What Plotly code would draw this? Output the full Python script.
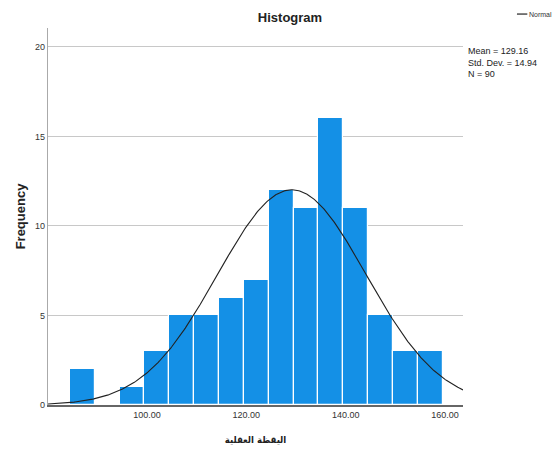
import numpy as np
import plotly.graph_objects as go

# Histogram of the mindfulness score (bins of width 5)
bin_centers = [87, 92, 97, 102, 107, 112, 117, 122, 127, 132, 137, 142, 147, 152, 157]
counts = [2, 0, 1, 3, 5, 5, 6, 7, 12, 11, 16, 11, 5, 3, 3]
bin_width = 5

mean_val = 129.16
std_val = 14.94
n_val = 90

x_ticks = [100, 120, 140, 160]
y_ticks = [0, 5, 10, 15, 20]

font_main = "Liberation Sans Narrow, Arial Narrow, Liberation Sans, Arial"

fig = go.Figure()

fig.add_trace(go.Bar(
    x=bin_centers,
    y=counts,
    width=bin_width,
    marker=dict(color="#1490E6", line=dict(color="white", width=1.2)),
    showlegend=False,
    hoverinfo="x+y",
))

# Fitted normal curve scaled to counts
xs = np.linspace(80.1, 163.6, 400)
ys = n_val * bin_width / (std_val * np.sqrt(2 * np.pi)) * np.exp(-0.5 * ((xs - mean_val) / std_val) ** 2)
fig.add_trace(go.Scatter(
    x=xs, y=ys, mode="lines",
    line=dict(color="#222222", width=1.1),
    name="Normal", showlegend=False,
))

# legend-like key for the curve
fig.add_shape(type="line", xref="paper", yref="paper",
              x0=1.130, x1=1.155, y0=1.037, y1=1.037,
              line=dict(color="#222222", width=1.2))
fig.add_annotation(xref="paper", yref="paper", x=1.155, y=1.037,
                   text="Normal", showarrow=False, xanchor="left", yanchor="middle",
                   font=dict(family=font_main, size=7, color="#333333"))

stats_text = (f"Mean = {mean_val:.2f}<br>Std. Dev. = {std_val:.2f}<br>N = {n_val}")
fig.add_annotation(xref="paper", yref="paper", x=1.008, y=0.957,
                   text=stats_text, showarrow=False, xanchor="left", yanchor="top",
                   align="left",
                   font=dict(family=font_main, size=9, color="#222222"))

fig.update_layout(
    width=558, height=457,
    margin=dict(l=48, r=95, t=28, b=52),
    paper_bgcolor="white", plot_bgcolor="white",
    bargap=0,
    title=dict(text="<b>Histogram</b>", x=290 / 558, xanchor="center",
               y=1 - 17 / 457, yanchor="middle",
               font=dict(family="Liberation Sans, Arial", size=13, color="#222222")),
    xaxis=dict(
        range=[80.1, 163.6],
        tickvals=x_ticks, tickformat=".2f",
        showgrid=False, zeroline=False,
        showline=True, linecolor="#666666", linewidth=1.5,
        ticks="", tickfont=dict(family=font_main, size=9, color="#333333"),
        title=dict(text="<b>اليقظة العقلية</b>", standoff=18,
                   font=dict(family="DejaVu Sans Condensed, DejaVu Sans", size=9.5, color="#222222")),
    ),
    yaxis=dict(
        range=[0, 21.05],
        tickvals=y_ticks,
        showgrid=True, gridcolor="#C8C8C8", gridwidth=1,
        zeroline=False,
        showline=True, linecolor="#AAAAAA", linewidth=1.2,
        ticks="", tickfont=dict(family=font_main, size=9, color="#333333"),
        title=dict(text="<b>Frequency</b>", standoff=6,
                   font=dict(family="Liberation Sans, Arial", size=13, color="#222222")),
    ),
)

fig.write_html("out.html")
